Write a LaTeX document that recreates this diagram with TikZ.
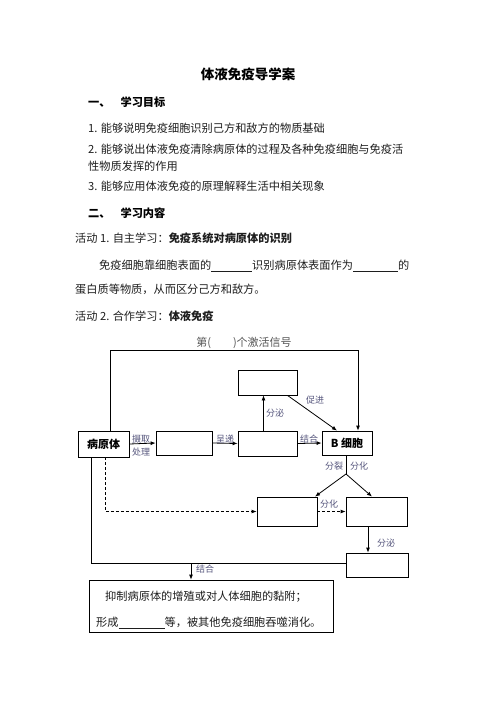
\documentclass[tikz,border=0pt]{standalone}
\usepackage{fontspec}
\setmainfont{Noto Sans CJK SC}
\usetikzlibrary{arrows.meta,calc}
\definecolor{labcol}{RGB}{86,86,125}
\definecolor{txt}{RGB}{30,30,30}
\tikzset{
  txtline/.style={anchor=west,inner sep=0pt,font=\fontsize{11.2pt}{12pt}\selectfont,text=txt},
  hdline/.style={anchor=west,inner sep=0pt,font=\fontsize{11.2pt}{12pt}\selectfont\bfseries},
  box/.style={draw,line width=0.8pt,inner sep=0pt,font=\fontsize{11pt}{12pt}\selectfont\bfseries},
  lab/.style={inner sep=0pt,font=\fontsize{9pt}{10pt}\selectfont,text=labcol},
  arr/.style={line width=0.8pt,-{Latex[length=5pt,width=4pt]}},
  ln/.style={line width=0.8pt},
  dsh/.style={line width=0.8pt,dashed,dash pattern=on 3pt off 2pt,-{Latex[length=5pt,width=4pt]}}
}
\newcommand{\blank}[1]{\underline{\hspace{#1}}}
\begin{document}
\begin{tikzpicture}[x=1pt,y=-1pt]
\path[use as bounding box,fill=white] (0,0) rectangle (496,702);
% heading text
\node[inner sep=0pt,font=\fontsize{13.5pt}{14pt}\selectfont\bfseries] (title) at (248,74) {体液免疫导学案};
\node[hdline] (h1) at (88,102) {一、\hspace{10pt}学习目标};
\node[txtline] (g1) at (88,128) {1. 能够说明免疫细胞识别己方和敌方的物质基础};
\node[txtline] (g2) at (88,149) {2. 能够说出体液免疫清除病原体的过程及各种免疫细胞与免疫活};
\node[txtline] (g2b) at (88,166) {性物质发挥的作用};
\node[txtline] (g3) at (88,186) {3. 能够应用体液免疫的原理解释生活中相关现象};
\node[hdline] (h2) at (88,213) {二、\hspace{10pt}学习内容};
\node[txtline] (a1) at (75,238) {活动 1. 自主学习：\textbf{免疫系统对病原体的识别}};
\node[txtline] (p1) at (99,266) {免疫细胞靠细胞表面的\blank{41pt}识别病原体表面作为\blank{45pt}的};
\node[txtline] (p2) at (75,289) {蛋白质等物质，从而区分己方和敌方。};
\node[txtline] (a2) at (75,316) {活动 2. 合作学习：\textbf{体液免疫}};
\node[lab,font=\fontsize{11pt}{12pt}\selectfont,text=txt!75] (sig) at (244,343) {第(\hspace{22pt})个激活信号};
% boxes
\node[box,minimum width=59pt,minimum height=25pt] (ta) at (267.5,382.5) {};
\node[box,minimum width=51pt,minimum height=26pt] (pat) at (103.5,444) {病原体};
\node[box,minimum width=56pt,minimum height=24pt] (b2) at (184,443) {};
\node[box,minimum width=59pt,minimum height=25pt] (b3) at (267.5,443.5) {};
\node[box,minimum width=50pt,minimum height=24pt] (bc) at (347,443) {B 细胞};
\node[box,minimum width=60pt,minimum height=29pt] (mem) at (287,511.5) {};
\node[box,minimum width=61pt,minimum height=29pt] (pla) at (376.5,511.5) {};
\node[box,minimum width=62pt,minimum height=24pt] (ab) at (377,565) {};
\node[draw,line width=0.8pt,minimum width=244pt,minimum height=52pt,inner sep=0pt] (bot) at (211,606) {};
\node[txtline] (bt1) at (105,597) {抑制病原体的增殖或对人体细胞的黏附；};
\node[txtline] (bt2) at (96,623) {形成\blank{46pt}等，被其他免疫细胞吞噬消化。};
% connectors
\coordinate (tl) at (110,350);
\coordinate (tr) at (358,350);
\draw[arr] ([xshift=6.5pt]pat.north) -- (tl) -- (tr) -- ([xshift=11pt]bc.north);
\draw[arr] (pat.east) -- (b2.west);
\draw[arr] (b2.west -| b2.east) -- (b3.west);
\draw[arr] (b3.east) -- (bc.west);
\draw[arr] ([xshift=-4pt]b3.north) -- ([xshift=-4pt]ta.south);
\draw[arr] ([xshift=20pt]ta.south) -- ([xshift=-10pt]bc.north);
\coordinate (split) at (346,474);
\draw[ln] ([xshift=-1pt]bc.south) -- (split);
\draw[arr] (split) -- ([xshift=28pt]mem.north);
\draw[arr] (split) -- ([xshift=-4.5pt]pla.north);
\draw[dsh] (mem.east) -- (pla.west);
\coordinate (dk) at (105,511.5);
\draw[dsh] ([xshift=1.5pt]pat.south) -- (dk) -- (mem.west);
\coordinate (sk) at (91,563);
\draw[ln] ([xshift=-12.5pt]pat.south) -- (sk) -- (ab.west |- sk);
\coordinate (jn) at (191,563);
\draw[arr] (jn) -- (bot.north -| jn);
\draw[arr] ([xshift=-8.5pt]pla.south) -- ([xshift=-9pt]ab.north);
% labels
\node[lab] (l1) at (141,439) {摄取};
\node[lab] (l2) at (141,452) {处理};
\node[lab] (l3) at (225,439) {呈递};
\node[lab] (l4) at (309,439) {结合};
\node[lab] (l5) at (275,413) {分泌};
\node[lab] (l6) at (315,400) {促进};
\node[lab] (l7) at (334,466) {分裂};
\node[lab] (l8) at (359,466) {分化};
\node[lab] (l9) at (329,504) {分化};
\node[lab] (l10) at (386,543) {分泌};
\node[lab] (l11) at (205,569) {结合};
\end{tikzpicture}
\end{document}
